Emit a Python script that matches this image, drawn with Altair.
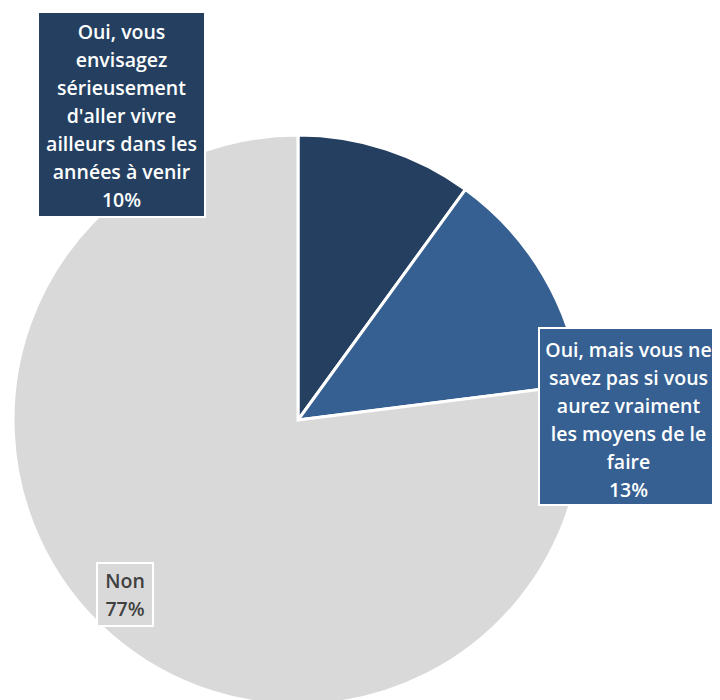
import altair as alt
import pandas as pd

categories = [
    "Oui, vous envisagez sérieusement d'aller vivre ailleurs dans les années à venir",
    "Oui, mais vous ne savez pas si vous aurez vraiment les moyens de le faire",
    "Non",
]
values = [10, 13, 77]
label_lines = [
    ["Oui, vous", "envisagez", "sérieusement", "d'aller vivre", "ailleurs dans les", "années à venir", "10%"],
    ["Oui, mais vous ne", "savez pas si vous", "aurez vraiment", "les moyens de le", "faire", "13%"],
    ["Non", "77%"],
]
colors = ["#243F60", "#366092", "#D9D9D9"]
text_colors = ["#FFFFFF", "#FFFFFF", "#404040"]

# layout (chart coordinates; page = chart + 8)
cx, cy, R = 290, 412, 285
boxes = [  # x, x2, y, y2
    (30, 197, 4, 209),
    (531, 710, 320, 497),
    (89, 145, 555, 618),
]
first_line_y = [25, 343, 574]

df = pd.DataFrame({"cat": categories, "value": values, "idx": [0, 1, 2]})

pie = alt.Chart(df).mark_arc(radius=R, stroke="white", strokeWidth=3).encode(
    theta=alt.Theta("value:Q", stack=True),
    order=alt.Order("idx:Q"),
    color=alt.Color("cat:N", scale=alt.Scale(domain=categories, range=colors), legend=None),
    x=alt.value(cx),
    y=alt.value(cy),
)

layers = [pie]
for i, cat in enumerate(categories):
    x1, x2, y1, y2 = boxes[i]
    sub = pd.DataFrame({"cat": [cat], "label": ["\n".join(label_lines[i])]})
    rect = alt.Chart(sub).mark_rect(fill=colors[i], stroke="white", strokeWidth=2).encode(
        x=alt.value(x1), x2=alt.value(x2), y=alt.value(y1), y2=alt.value(y2)
    )
    txt = alt.Chart(sub).mark_text(
        font="Open Sans", fontSize=19.5, fontWeight=600, color=text_colors[i],
        lineBreak="\n", lineHeight=28, align="center", baseline="middle",
    ).encode(
        x=alt.value((x1 + x2) / 2), y=alt.value(first_line_y[i]), text="label:N"
    )
    layers += [rect, txt]

chart = alt.layer(*layers).properties(
    width=704, height=692, padding=0,
    autosize=alt.AutoSizeParams(type="none"),
).configure(background="white").configure_view(stroke=None)

chart.save("out.html", embed_options={"renderer": "svg", "actions": False})
